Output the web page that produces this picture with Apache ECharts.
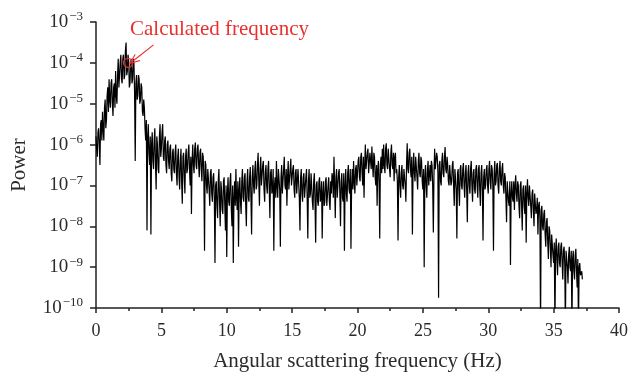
<!DOCTYPE html>
<html>
<head>
<meta charset="utf-8">
<script src="https://cdn.jsdelivr.net/npm/echarts@6/dist/echarts.min.js"></script>
<style>html,body{margin:0;padding:0;background:#fff}#c{width:631px;height:373px}</style>
</head>
<body>
<div id="c"></div>
<script>
// Sampling grid of the spectrum (Hz)
const freqStart = 0.0;
const freqStep = 0.05;
// log10(power), one row per 1 Hz
const logPower = [
  -5.8,-6.1,-6.3,-5.7,-5.6,-6.0,-6.5,-5.5,-5.4,-5.9,-5.2,-5.6,-5.9,-5.1,-4.9,-5.6,-5.4,-4.8,-4.6,-5.2,
  -4.4,-4.9,-5.1,-4.5,-4.4,-5.0,-5.3,-4.6,-4.5,-5.1,-4.2,-4.8,-5.0,-4.3,-3.9,-4.6,-4.6,-4.0,-3.8,-4.4,
  -4.5,-3.9,-3.8,-4.4,-4.3,-3.7,-3.5,-4.3,-4.2,-3.8,-3.95,-4.6,-4.5,-4.0,-3.9,-4.5,-4.4,-3.9,-4.0,-4.7,
  -6.4,-4.5,-4.3,-4.9,-4.8,-4.3,-4.4,-5.0,-4.9,-4.5,-4.6,-5.2,-5.3,-4.9,-5.1,-5.6,-5.9,-5.4,-8.1,-5.8,
  -5.5,-6.2,-6.5,-5.8,-8.2,-6.0,-5.7,-6.4,-6.6,-5.9,-5.6,-6.5,-7.1,-5.8,-6.0,-6.6,-6.7,-5.8,-5.5,-6.3,
  -6.1,-5.7,-5.5,-6.3,-6.4,-5.9,-5.8,-6.5,-6.7,-6.0,-5.9,-6.4,-6.6,-6.1,-6.0,-6.7,-6.9,-6.2,-6.1,-6.6,
  -6.7,-6.2,-6.0,-6.7,-7.0,-6.3,-6.1,-6.8,-7.1,-6.4,-6.1,-6.9,-7.45,-6.3,-6.2,-6.8,-7.2,-6.3,-6.1,-6.7,
  -6.6,-6.2,-6.0,-6.6,-7.0,-6.3,-7.7,-6.4,-6.0,-6.5,-6.7,-6.1,-5.95,-6.5,-6.6,-6.1,-6.0,-6.5,-6.8,-6.2,
  -6.1,-6.6,-6.9,-6.2,-6.3,-6.8,-8.6,-6.4,-6.5,-7.0,-7.2,-6.6,-6.6,-7.1,-7.5,-6.7,-6.6,-7.2,-7.4,-6.8,
  -6.7,-7.3,-8.9,-7.0,-6.9,-7.5,-7.8,-6.9,-6.6,-7.4,-8.0,-6.9,-7.1,-7.6,-7.7,-6.9,-6.8,-7.5,-8.1,-7.0,
  -8.75,-7.2,-6.8,-7.4,-7.5,-6.9,-6.7,-7.6,-8.0,-7.0,-8.9,-7.3,-6.9,-7.5,-6.6,-7.3,-7.6,-6.9,-8.5,-7.1,
  -6.8,-7.4,-7.7,-6.9,-6.6,-7.3,-7.4,-6.8,-6.7,-7.5,-8.0,-6.9,-6.6,-7.3,-7.4,-6.8,-6.55,-7.3,-8.2,-6.8,
  -6.5,-7.0,-7.2,-6.6,-6.4,-7.1,-7.0,-6.5,-6.2,-6.9,-7.5,-6.6,-6.3,-7.0,-7.0,-6.5,-6.4,-7.1,-7.4,-6.7,
  -6.5,-7.0,-7.2,-6.6,-6.4,-7.1,-7.8,-6.7,-6.6,-7.2,-7.1,-6.6,-8.6,-7.0,-6.8,-7.3,-6.4,-7.0,-7.3,-6.6,
  -6.6,-7.1,-8.5,-6.8,-6.5,-7.2,-7.2,-6.6,-6.3,-7.0,-7.1,-6.6,-7.5,-6.8,-6.4,-7.1,-7.1,-6.6,-6.35,-7.0,
  -7.0,-6.6,-6.5,-7.1,-7.3,-6.7,-6.6,-7.2,-7.2,-6.6,-6.6,-7.3,-8.1,-6.8,-6.6,-7.2,-7.4,-6.8,-6.7,-7.3,
  -7.3,-6.8,-6.6,-7.3,-8.3,-6.9,-6.6,-7.3,-7.2,-6.7,-6.7,-7.4,-7.6,-6.9,-6.7,-7.4,-8.4,-7.0,-6.9,-7.4,
  -7.5,-6.9,-6.8,-7.4,-7.3,-6.9,-8.3,-7.2,-6.9,-7.5,-7.4,-6.9,-6.8,-7.5,-7.5,-7.0,-6.8,-7.4,-7.6,-6.9,
  -7.2,-6.7,-6.8,-7.3,-6.3,-7.0,-7.8,-6.8,-6.6,-7.3,-7.3,-6.7,-6.6,-7.2,-8.0,-6.9,-6.7,-7.3,-7.4,-6.7,
  -8.6,-7.0,-6.6,-7.2,-7.4,-6.7,-6.5,-7.1,-7.2,-6.6,-8.55,-7.0,-6.6,-7.1,-6.4,-6.9,-7.2,-6.6,-6.5,-7.0,
  -7.0,-6.4,-6.3,-6.8,-6.9,-6.3,-6.2,-6.7,-7.0,-6.3,-7.3,-6.5,-6.0,-6.6,-6.6,-6.2,-6.1,-6.7,-6.7,-6.2,
  -6.2,-6.6,-6.05,-6.5,-6.8,-6.2,-6.3,-6.8,-7.0,-6.5,-7.5,-6.6,-6.4,-6.9,-8.3,-6.5,-6.3,-6.7,-6.1,-6.6,
  -6.0,-6.5,-6.7,-6.1,-5.97,-6.5,-6.6,-6.1,-6.1,-6.6,-6.8,-6.2,-6.0,-6.5,-6.6,-6.2,-6.9,-6.3,-6.2,-6.7,
  -6.6,-6.9,-8.35,-6.8,-6.5,-7.0,-7.3,-6.7,-6.5,-7.0,-7.1,-6.6,-6.6,-7.0,-7.4,-6.5,-5.97,-6.6,-6.7,-6.2,
  -6.1,-6.6,-6.8,-6.3,-8.2,-6.6,-6.2,-6.7,-6.9,-6.3,-6.3,-6.8,-7.1,-6.4,-6.2,-6.7,-6.8,-6.3,-6.4,-6.9,
  -7.1,-6.6,-9.0,-6.8,-6.5,-7.0,-7.3,-6.6,-6.4,-7.0,-7.0,-6.5,-6.9,-6.4,-6.5,-7.0,-8.15,-6.7,-6.1,-6.6,
  -6.6,-6.2,-6.3,-6.7,-9.75,-6.5,-6.4,-6.9,-7.0,-6.4,-6.2,-6.7,-6.8,-6.3,-6.06,-6.6,-6.7,-6.3,-6.5,-6.9,
  -7.0,-6.5,-6.5,-7.0,-6.9,-6.5,-6.4,-7.0,-7.5,-6.6,-6.6,-7.1,-8.3,-6.7,-6.6,-7.1,-7.5,-6.6,-6.5,-7.0,
  -7.1,-6.6,-6.45,-7.0,-7.3,-6.7,-6.5,-7.1,-7.9,-6.7,-6.5,-7.0,-7.2,-6.6,-6.4,-7.0,-7.4,-6.7,-6.6,-7.1,
  -7.2,-6.6,-6.5,-7.0,-7.3,-6.6,-6.5,-7.1,-7.5,-6.7,-6.5,-7.1,-8.35,-6.8,-6.6,-7.1,-7.0,-6.6,-6.5,-7.0,
  -7.2,-6.6,-6.4,-6.9,-7.1,-6.5,-6.6,-7.0,-8.6,-6.7,-6.4,-7.0,-6.9,-6.5,-6.45,-7.0,-7.2,-6.6,-6.4,-6.9,
  -7.0,-6.6,-6.45,-7.0,-7.2,-6.7,-6.8,-7.3,-7.9,-6.9,-6.9,-7.4,-7.5,-6.9,-8.95,-7.2,-6.9,-7.3,-7.4,-6.9,
  -7.6,-7.0,-6.75,-7.2,-7.4,-6.9,-7.0,-7.5,-7.8,-7.0,-6.9,-7.5,-8.1,-7.1,-7.0,-7.5,-7.7,-7.0,-8.4,-7.2,
  -6.85,-7.3,-7.5,-7.0,-7.0,-7.5,-7.8,-7.2,-7.1,-7.6,-8.0,-7.2,-7.2,-7.7,-7.6,-7.3,-8.2,-7.5,-7.4,-7.8,
  -10.5,-7.6,-7.5,-8.0,-8.1,-7.7,-7.6,-8.2,-8.5,-7.9,-7.8,-8.4,-8.8,-8.0,-8.1,-8.5,-9.0,-8.2,-8.2,-8.7,
  -8.9,-8.4,-10.5,-8.6,-8.3,-8.8,-9.2,-8.5,-8.4,-8.9,-9.0,-8.5,-8.4,-8.9,-9.3,-8.6,-8.5,-8.9,-10.5,-8.6,
  -8.6,-9.0,-9.4,-8.7,-8.5,-9.0,-9.1,-8.6,-10.5,-8.8,-8.6,-9.1,-9.3,-8.7,-8.55,-9.1,-9.5,-8.8,-10.5,-9.0,
  -8.9,-9.2,-9.2,-9.1,-9.3
];
// Annotation
const calcFreq = 2.45;
const calcPower = 1e-4;
const annotationText = 'Calculated frequency';
const xTicks = [0, 5, 10, 15, 20, 25, 30, 35, 40];

const seriesData = logPower.map((e, i) => [
  +(freqStart + i * freqStep).toFixed(3), Math.pow(10, e)
]);

const chart = echarts.init(document.getElementById('c'));
const serif = '"Liberation Serif", "DejaVu Serif", serif';
const axisCol = '#222';
const txtCol = '#2b2b2b';
chart.setOption({
  animation: false,
  backgroundColor: '#fff',
  grid: { left: 96, right: 12, top: 22, bottom: 65, containLabel: false, outerBoundsMode: 'none' },
  xAxis: {
    type: 'value', min: xTicks[0], max: xTicks[xTicks.length - 1], interval: 5,
    name: 'Angular scattering frequency (Hz)', nameLocation: 'middle', nameGap: 43,
    nameTextStyle: { fontFamily: serif, fontSize: 21, color: txtCol },
    axisLine: { lineStyle: { color: axisCol, width: 1.5 } },
    axisTick: { length: 5, lineStyle: { color: axisCol, width: 1.5 } },
    minorTick: { show: true, splitNumber: 2, length: 3, lineStyle: { color: axisCol, width: 1.5 } },
    axisLabel: { fontFamily: serif, fontSize: 18, color: txtCol, margin: 14 },
    splitLine: { show: false }
  },
  yAxis: {
    type: 'log', logBase: 10, min: 1e-10, max: 1e-3, interval: 1,
    name: 'Power', nameLocation: 'middle', nameGap: 66,
    nameTextStyle: { fontFamily: serif, fontSize: 21, color: txtCol },
    axisLine: { show: true, lineStyle: { color: axisCol, width: 1.5 } },
    axisTick: { show: true, length: 6, lineStyle: { color: axisCol, width: 1.5 } },
    splitLine: { show: false },
    axisLabel: {
      fontFamily: serif, fontSize: 19, color: txtCol, margin: 13,
      formatter: v => '10{s|−' + Math.round(-Math.log10(v)) + '}',
      rich: { s: { fontFamily: serif, fontSize: 13, color: txtCol, verticalAlign: 'top', padding: [0, 0, 10, 1] } }
    }
  },
  graphic: [{
    type: 'text', left: 130, top: 19,
    style: { text: annotationText, fill: '#e8312f', font: '21px ' + serif }
  }],
  series: [{
    type: 'line', data: seriesData, showSymbol: false, symbol: 'none',
    lineStyle: { color: '#000', width: 1.2 }, clip: true, silent: true,
    markPoint: {
      symbol: 'circle', symbolSize: 9, silent: true,
      itemStyle: { color: 'rgba(0,0,0,0)', borderColor: '#e8312f', borderWidth: 1.3 },
      label: { show: false },
      data: [{ coord: [calcFreq, calcPower] }]
    },
    markLine: {
      silent: true, symbol: ['none', 'path://M5,0 L10,10 L8.6,10 L5,2.6 L1.4,10 L0,10 Z'], symbolSize: [9, 11],
      lineStyle: { color: '#e8312f', width: 1.2, type: 'solid' },
      label: { show: false },
      data: [[{ coord: [4.4, Math.pow(10, -3.56)] }, { coord: [2.85, Math.pow(10, -3.95)] }]]
    }
  }]
});
</script>
</body>
</html>
